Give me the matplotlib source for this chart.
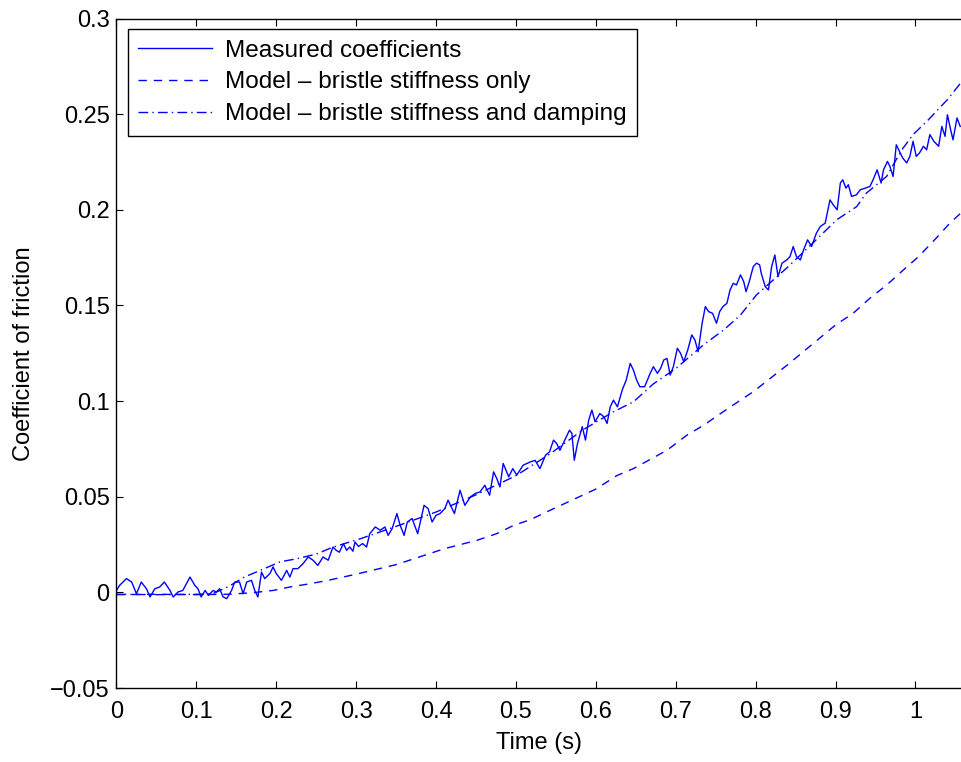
import matplotlib
matplotlib.use("Agg")
import matplotlib.pyplot as plt
import numpy as np

# measured coefficient of friction
meas_t = [0.000, 0.004, 0.0125, 0.019, 0.025, 0.031, 0.0375, 0.042, 0.048, 0.054,
          0.060, 0.067, 0.071, 0.077, 0.083, 0.092, 0.098, 0.102, 0.106, 0.111,
          0.115, 0.121, 0.125, 0.129, 0.1335, 0.138, 0.144, 0.148, 0.154, 0.1585,
          0.163, 0.169, 0.173, 0.177, 0.1815, 0.1855, 0.192, 0.196, 0.200, 0.2065,
          0.213, 0.217, 0.221, 0.227, 0.2335, 0.240, 0.246, 0.252, 0.2585, 0.265,
          0.271, 0.275, 0.279, 0.284, 0.288, 0.292, 0.296, 0.2985, 0.303, 0.308,
          0.313, 0.317, 0.324, 0.330, 0.336, 0.340, 0.345, 0.351, 0.355, 0.360,
          0.364, 0.370, 0.377, 0.385, 0.390, 0.395, 0.400, 0.405, 0.411, 0.415,
          0.423, 0.430, 0.436, 0.443, 0.449, 0.455, 0.461, 0.467, 0.472, 0.476,
          0.480, 0.484, 0.491, 0.496, 0.501, 0.509, 0.518, 0.524, 0.530, 0.537,
          0.542, 0.547, 0.551, 0.555, 0.561, 0.567, 0.570, 0.573, 0.577, 0.583,
          0.587, 0.591, 0.595, 0.599, 0.605, 0.610, 0.614, 0.618, 0.622, 0.627,
          0.633, 0.638, 0.643, 0.647, 0.651, 0.655, 0.661, 0.668, 0.672, 0.677,
          0.681, 0.685, 0.689, 0.693, 0.697, 0.702, 0.706, 0.710, 0.715, 0.720,
          0.724, 0.728, 0.733, 0.737, 0.741, 0.746, 0.751, 0.755, 0.759, 0.764,
          0.768, 0.772, 0.776, 0.781, 0.785, 0.788, 0.792, 0.797, 0.801, 0.805,
          0.807, 0.812, 0.816, 0.820, 0.824, 0.828, 0.833, 0.839, 0.843, 0.847,
          0.851, 0.856, 0.860, 0.865, 0.870, 0.876, 0.881, 0.887, 0.893, 0.897,
          0.902, 0.906, 0.909, 0.913, 0.916, 0.920, 0.926, 0.931, 0.937, 0.943,
          0.947, 0.952, 0.957, 0.960, 0.965, 0.968, 0.972, 0.976, 0.980, 0.984,
          0.989, 0.993, 0.997, 1.001, 1.005, 1.010, 1.014, 1.018, 1.023, 1.029,
          1.033, 1.037, 1.040, 1.044, 1.047, 1.052, 1.056]
meas_v = [0.0010, 0.0037, 0.0072, 0.0054, -0.0007, 0.0054, 0.0019, -0.0024, 0.0019, 0.0028,
          0.0054, 0.0010, -0.0024, 0.0002, 0.0010, 0.0080, 0.0037, 0.0019, -0.0024, 0.0010,
          -0.0016, 0.0010, 0.0002, 0.0019, -0.0024, -0.0033, 0.0010, 0.0054, 0.0054, -0.0007,
          0.0054, 0.0063, 0.0010, -0.0024, 0.0106, 0.0072, 0.0098, 0.0133, 0.0098, 0.0063,
          0.0115, 0.0080, 0.0124, 0.0124, 0.0150, 0.0185, 0.0168, 0.0141, 0.0185, 0.0168,
          0.0237, 0.0220, 0.0210, 0.0255, 0.0220, 0.0237, 0.0215, 0.0263, 0.0240, 0.0255,
          0.0237, 0.0307, 0.0342, 0.0325, 0.0342, 0.0298, 0.0333, 0.0412, 0.0351, 0.0298,
          0.0368, 0.0386, 0.0307, 0.0455, 0.0438, 0.0368, 0.0403, 0.0412, 0.0438, 0.0482,
          0.0412, 0.0534, 0.0455, 0.0499, 0.0517, 0.0525, 0.0560, 0.0508, 0.0630, 0.0595,
          0.0551, 0.0674, 0.0604, 0.0647, 0.0613, 0.0665, 0.0682, 0.0690, 0.0647, 0.0717,
          0.0735, 0.0796, 0.0778, 0.0743, 0.0796, 0.0848, 0.0831, 0.0691, 0.0778, 0.0866,
          0.0796, 0.0900, 0.0953, 0.0892, 0.0935, 0.0918, 0.0883, 0.0970, 0.1005, 0.0970,
          0.1058, 0.1110, 0.1197, 0.1162, 0.1110, 0.1075, 0.1075, 0.1145, 0.1180, 0.1145,
          0.1171, 0.1215, 0.1223, 0.1136, 0.1180, 0.1276, 0.1250, 0.1206, 0.1267, 0.1346,
          0.1319, 0.1258, 0.1407, 0.1494, 0.1468, 0.1459, 0.1407, 0.1468, 0.1494, 0.1511,
          0.1581, 0.1616, 0.1607, 0.1660, 0.1625, 0.1572, 0.1625, 0.1703, 0.1721, 0.1712,
          0.1668, 0.1598, 0.1581, 0.1703, 0.1764, 0.1651, 0.1721, 0.1738, 0.1756, 0.1808,
          0.1756, 0.1738, 0.1791, 0.1843, 0.1808, 0.1878, 0.1913, 0.1930, 0.2052, 0.2026,
          0.2000, 0.2140, 0.2157, 0.2113, 0.2131, 0.2070, 0.2078, 0.2105, 0.2113, 0.2122,
          0.2157, 0.2209, 0.2140, 0.2209, 0.2253, 0.2227, 0.2174, 0.2340, 0.2305, 0.2271,
          0.2245, 0.2279, 0.2358, 0.2279, 0.2297, 0.2332, 0.2314, 0.2393, 0.2358, 0.2332,
          0.2436, 0.2384, 0.2497, 0.2419, 0.2366, 0.2480, 0.2436]

# model - bristle stiffness only
stiff_t = [0.0, 0.05, 0.10, 0.14, 0.17, 0.196, 0.217, 0.242, 0.265, 0.30,
           0.35, 0.411, 0.451, 0.476, 0.497, 0.518, 0.538, 0.60, 0.626, 0.647,
           0.689, 0.714, 0.735, 0.755, 0.776, 0.797, 0.84, 0.885, 0.90, 0.922,
           0.943, 0.964, 0.985, 1.004, 1.024, 1.043, 1.056]
stiff_v = [-0.0012, -0.0010, -0.0012, -0.0010, -0.0002, 0.0010, 0.0028, 0.0045, 0.0063, 0.0095,
           0.0145, 0.0229, 0.0272, 0.0307, 0.0350, 0.0380, 0.0420, 0.0540, 0.0610, 0.0647,
           0.0743, 0.0822, 0.0874, 0.0932, 0.0991, 0.1049, 0.1190, 0.1346, 0.1398, 0.1459,
           0.1538, 0.1607, 0.1686, 0.1756, 0.1843, 0.1930, 0.1980]

# model - bristle stiffness and damping
damp_t = [0.0, 0.05, 0.10, 0.12, 0.14, 0.16, 0.18, 0.205, 0.225, 0.25,
          0.27, 0.305, 0.35, 0.40, 0.45, 0.50, 0.543, 0.584, 0.622, 0.647,
          0.672, 0.70, 0.735, 0.760, 0.781, 0.801, 0.84, 0.87, 0.9015, 0.9265,
          0.9385, 0.964, 0.983, 0.997, 1.016, 1.04, 1.056]
damp_v = [-0.0010, -0.0012, -0.0010, -0.0008, 0.0030, 0.0080, 0.0115, 0.0160, 0.0175, 0.0200,
          0.0235, 0.0280, 0.0345, 0.0420, 0.0510, 0.0610, 0.0725, 0.0850, 0.0944, 0.0996,
          0.1090, 0.1170, 0.1295, 0.1372, 0.1450, 0.1555, 0.1700, 0.1820, 0.1948, 0.2017,
          0.2087, 0.2175, 0.2314, 0.2393, 0.2470, 0.2576, 0.2660]

plt.rcParams['font.family'] = ['Liberation Sans', 'DejaVu Sans']
fs = 17

fig = plt.figure(figsize=(9.61, 7.62), dpi=100)
ax = fig.add_axes([0.1212, 0.0971, 0.8788, 0.8786])

ax.plot(meas_t, meas_v, color='blue', lw=1.0, label='Measured coefficients')
ax.plot(stiff_t, stiff_v, color='blue', lw=1.0, dashes=(6, 5),
        label='Model \u2013 bristle stiffness only')
ax.plot(damp_t, damp_v, color='blue', lw=1.0, dashes=(7, 3, 1, 3),
        label='Model \u2013 bristle stiffness and damping')

ax.set_xlim(0, 1.057)
ax.set_ylim(-0.05, 0.3)
ax.set_xticks(np.arange(0, 1.01, 0.1))
ax.set_xticklabels(['0', '0.1', '0.2', '0.3', '0.4', '0.5', '0.6', '0.7', '0.8', '0.9', '1'])
ax.set_yticks(np.arange(-0.05, 0.301, 0.05))
ax.set_yticklabels(['\u22120.05', '0', '0.05', '0.1', '0.15', '0.2', '0.25', '0.3'])
ax.tick_params(direction='in', length=5, width=0.8, top=True, right=False, labelsize=fs)
ax.tick_params(axis='x', pad=9)
ax.tick_params(axis='y', pad=5)
ax.spines['right'].set_visible(False)
for s in ['left', 'bottom', 'top']:
    ax.spines[s].set_linewidth(1.0)

ax.set_xlabel('Time (s)', fontsize=fs, labelpad=7)
ax.set_ylabel('Coefficient of friction', fontsize=fs, labelpad=11)

leg = ax.legend(loc='upper left', bbox_to_anchor=(0.0136, 0.984), borderaxespad=0,
                fancybox=False, edgecolor='black', framealpha=1, fontsize=17.6,
                handlelength=3.0, labelspacing=0.4, borderpad=0.42, handletextpad=0.55)
leg.get_frame().set_linewidth(1.0)

fig.savefig('out.png', dpi=100)
